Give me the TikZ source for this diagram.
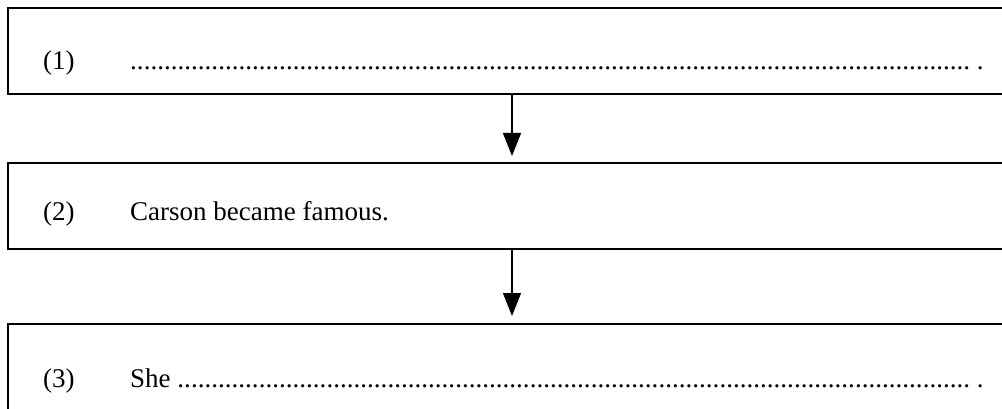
\documentclass[tikz,border=0pt]{standalone}
\usepackage{fontspec}
\setmainfont{Liberation Serif}
\usetikzlibrary{arrows.meta}
\newcommand{\dotline}[1]{\hbox to 840pt{#1\xleaders\hbox{.}\hfill}\ .}
\begin{document}
\begin{tikzpicture}[x=1pt,y=-1pt,
  stagebox/.style={draw,line width=1.3pt,rectangle,minimum width=1010pt,minimum height=86pt,inner sep=0pt},
  txt/.style={anchor=base west,inner sep=0pt,font=\fontsize{27}{32}\selectfont},
  flow/.style={line width=1.3pt,-{Triangle[width=18pt,length=23pt]}}]
\useasboundingbox (0,0) rectangle (1002,409);
\clip (0,0) rectangle (1002,409);
\node[stagebox] (b1) at (513,51) {};
\node[stagebox] (b2) at (513,206) {};
\node[stagebox] (b3) at (513,367) {};
\node[txt] (n1) at (43,70) {(1)};
\node[txt] (t1) at (130,70) {\dotline{}};
\node[txt] (n2) at (43,220) {(2)};
\node[txt] (t2) at (130,220) {Carson became famous.};
\node[txt] (n3) at (43,387) {(3)};
\node[txt] (t3) at (130,387) {\dotline{She }};
\coordinate (a1) at (512,156);
\coordinate (a2) at (512,316);
\draw[flow] (b1.south -| a1) -- (a1);
\draw[flow] (b2.south -| a2) -- (a2);
\end{tikzpicture}
\end{document}
